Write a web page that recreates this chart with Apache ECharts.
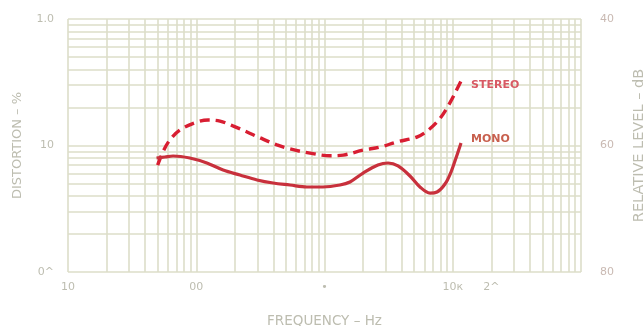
<!DOCTYPE html>
<html>
<head>
<meta charset="utf-8">
<script src="https://cdn.jsdelivr.net/npm/echarts@6/dist/echarts.min.js"></script>
<style>
html,body{margin:0;padding:0;background:#ffffff;}
#chart{width:644px;height:326px;}
</style>
</head>
<body>
<div id="chart"></div>
<script>
// Frequency grid lines (Hz) and distortion grid lines (%)
var xGridValues = [10,20,30,40,50,60,70,80,90,100,200,300,400,500,600,700,800,900,1000,2000,3000,4000,5000,6000,7000,8000,9000,10000,20000,30000,40000,50000,60000,70000,80000,90000,100000];
var yGridValues = [0.01,0.02,0.03,0.04,0.05,0.06,0.07,0.08,0.09,0.1,0.2,0.3,0.4,0.5,0.6,0.7,0.8,0.9,1];
var xTickValues = [10,100,1000,10000,20000];
var xTickLabels = ['10','00','•','10к','2^'];
var yTickValues = [0.01,0.1,1];
var yTickLabels = ['0^','10','1.0'];
var rightTickLabels = ['40','60','80'];

// Stereo distortion (%) vs frequency (Hz)
var stereoFreq = [50,55,62,75,101,124,153,193,249,314,426,538,771,1100,1400,2000,2700,3700,5300,6600,8000,9500,11000,11600];
var stereoDist = [0.070,0.089,0.110,0.133,0.153,0.159,0.156,0.143,0.128,0.115,0.101,0.094,0.087,0.083,0.084,0.092,0.097,0.107,0.117,0.135,0.165,0.217,0.290,0.324];
// Mono distortion (%) vs frequency (Hz)
var monoFreq = [49,57,66,89,121,162,219,298,397,538,730,973,1320,1580,2000,2610,3130,3740,4640,5550,6650,7540,8700,9690,10600,11600];
var monoDist = [0.0796,0.0811,0.0826,0.0796,0.0727,0.0640,0.0584,0.0534,0.0505,0.0487,0.0470,0.0470,0.0487,0.0515,0.0606,0.0701,0.0727,0.0689,0.0574,0.0470,0.0421,0.0429,0.0496,0.0617,0.0796,0.1047];

function pairs(xs, ys){ return xs.map(function(x,i){ return [x, ys[i]]; }); }
function lookup(vals, labels, v){
  for (var i=0;i<vals.length;i++){ if (Math.abs(Math.log10(v)-Math.log10(vals[i]))<1e-6) return labels[i]; }
  return '';
}

var textColor = '#bdbdb0';
var gridColor = '#dcdec9';
var font = '"DejaVu Sans", "Liberation Sans", sans-serif';

var chart = echarts.init(document.getElementById('chart'), null, {renderer:'canvas'});
chart.setOption({
  backgroundColor: '#ffffff',
  animation: false,
  grid: {left: 68, right: 63, top: 19, bottom: 54, outerBoundsMode: 'none', containLabel: false},
  xAxis: {
    type: 'log', logBase: 10, min: 10, max: 100000,
    name: 'FREQUENCY – Hz', nameLocation: 'middle', nameGap: 42,
    nameTextStyle: {color: textColor, fontSize: 13.5, fontFamily: font},
    axisLine: {show: false},
    axisTick: {show: false, customValues: xGridValues},
    splitLine: {show: true, lineStyle: {color: gridColor, width: 1.6}},
    axisLabel: {
      customValues: xTickValues, margin: 10,
      color: textColor, fontSize: 11, fontFamily: font,
      formatter: function(v){ return lookup(xTickValues, xTickLabels, v); }
    }
  },
  yAxis: [{
    type: 'log', logBase: 10, min: 0.01, max: 1,
    name: 'DISTORTION – %', nameLocation: 'middle', nameGap: 44, nameRotate: 90,
    nameTextStyle: {color: textColor, fontSize: 13, fontFamily: font},
    axisLine: {show: false},
    axisTick: {show: false, customValues: yGridValues},
    splitLine: {show: true, lineStyle: {color: gridColor, width: 1.6}},
    axisLabel: {
      customValues: yTickValues, margin: 14,
      color: textColor, fontSize: 11, fontFamily: font,
      formatter: function(v){ return lookup(yTickValues, yTickLabels, v); }
    }
  }, {
    type: 'value', position: 'right', min: 40, max: 80, interval: 20, inverse: true,
    name: 'RELATIVE LEVEL – dB', nameLocation: 'middle', nameGap: 51, nameRotate: 90,
    nameTextStyle: {color: textColor, fontSize: 14.5, fontFamily: font},
    axisLine: {show: false}, axisTick: {show: false}, splitLine: {show: false},
    axisLabel: {
      margin: 19, color: '#c9b9b2', fontSize: 11, fontFamily: font,
      formatter: function(v){ return rightTickLabels[Math.round((v-40)/20)]; }
    }
  }],
  series: [{
    name: 'STEREO', type: 'line', yAxisIndex: 0,
    data: pairs(stereoFreq, stereoDist),
    smooth: 0.35, showSymbol: false, symbol: 'none',
    lineStyle: {color: '#d81e32', width: 3.4, type: [10, 6]},
    endLabel: {show: true, formatter: 'STEREO', offset: [2, 4], color: '#d85a64', fontSize: 11, fontWeight: 'bold', fontFamily: font}
  }, {
    name: 'MONO', type: 'line', yAxisIndex: 0,
    data: pairs(monoFreq, monoDist),
    smooth: 0.35, showSymbol: false, symbol: 'none',
    lineStyle: {color: '#c8303c', width: 3.2},
    endLabel: {show: true, formatter: 'MONO', offset: [2, -4], color: '#c8604e', fontSize: 11, fontWeight: 'bold', fontFamily: font}
  }]
});
</script>
</body>
</html>
